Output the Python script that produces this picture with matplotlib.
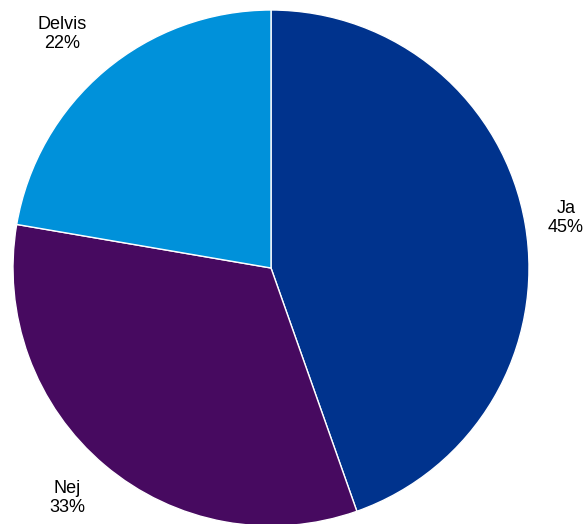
import matplotlib.pyplot as plt

labels = ["Ja", "Nej", "Delvis"]
shares = [44.6, 33.1, 22.3]
colors = ["#00338D", "#470A60", "#0091DA"]

W, H = 586, 524
fig = plt.figure(figsize=(W / 100, H / 100), dpi=100)
ax = fig.add_axes([0, 0, 1, 1])

cx, cy, r = 271, H - 268, 258
ax.pie(
    shares,
    colors=colors,
    startangle=90,
    counterclock=False,
    center=(cx, cy),
    radius=r,
    frame=True,
    wedgeprops=dict(edgecolor="white", linewidth=1.0),
)
ax.set_xlim(0, W)
ax.set_ylim(0, H)
ax.set_aspect("equal")
ax.axis("off")

# label centres in pixel space (x, y measured from the top)
label_pos = [(566, 218), (67, 498), (62, 34)]
for name, share, (x, y) in zip(labels, shares, label_pos):
    ax.text(x, H - y, f"{name}\n{share:.0f}%", ha="center", va="center",
            fontsize=13, family="Liberation Sans", linespacing=1.12, color="black")

fig.savefig("out.png", dpi=100)
